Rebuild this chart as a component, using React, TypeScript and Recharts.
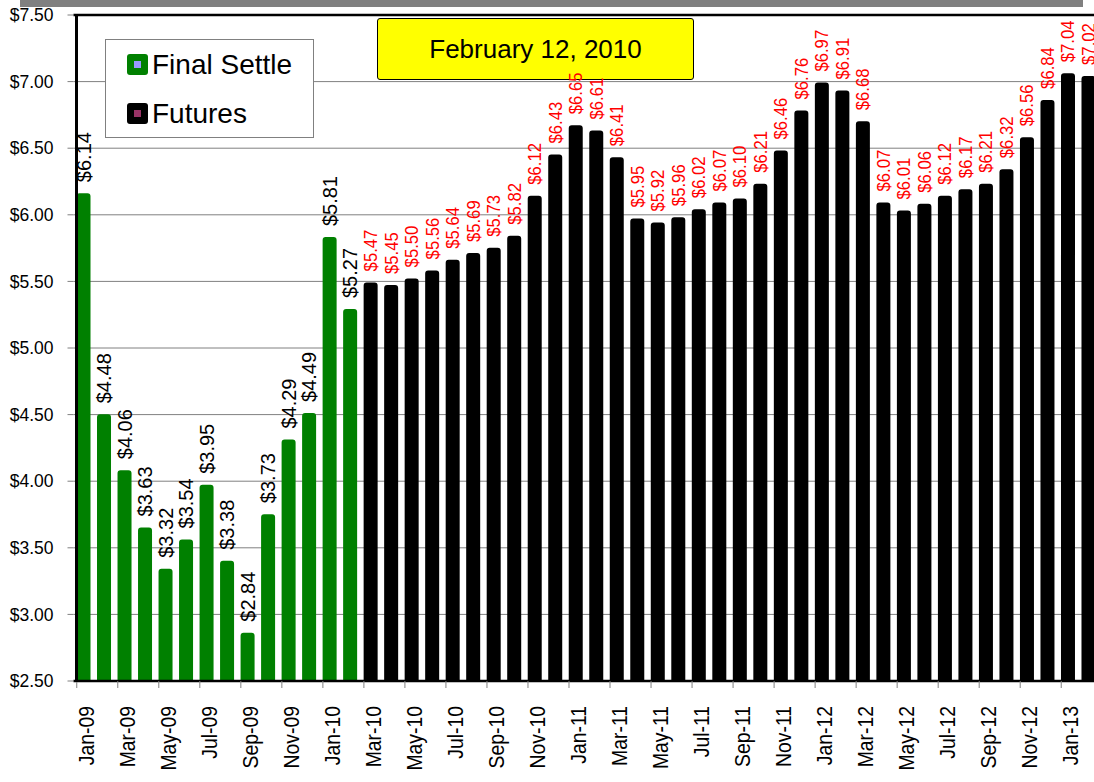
import { BarChart, Bar, XAxis, YAxis, CartesianGrid, LabelList, ReferenceLine } from "recharts";

const months = [
  "Jan-09", "Feb-09", "Mar-09", "Apr-09", "May-09", "Jun-09", "Jul-09", "Aug-09", "Sep-09", "Oct-09", "Nov-09", "Dec-09",
  "Jan-10", "Feb-10", "Mar-10", "Apr-10", "May-10", "Jun-10", "Jul-10", "Aug-10", "Sep-10", "Oct-10", "Nov-10", "Dec-10",
  "Jan-11", "Feb-11", "Mar-11", "Apr-11", "May-11", "Jun-11", "Jul-11", "Aug-11", "Sep-11", "Oct-11", "Nov-11", "Dec-11",
  "Jan-12", "Feb-12", "Mar-12", "Apr-12", "May-12", "Jun-12", "Jul-12", "Aug-12", "Sep-12", "Oct-12", "Nov-12", "Dec-12",
  "Jan-13", "Feb-13",
];

// Jan-09 .. Feb-10
const settleValues = [6.14, 4.48, 4.06, 3.63, 3.32, 3.54, 3.95, 3.38, 2.84, 3.73, 4.29, 4.49, 5.81, 5.27];

// Mar-10 .. Feb-13
const futuresValues = [
  5.47, 5.45, 5.5, 5.56, 5.64, 5.69, 5.73, 5.82, 6.12, 6.43,
  6.65, 6.61, 6.41, 5.95, 5.92, 5.96, 6.02, 6.07, 6.1, 6.21, 6.46, 6.76,
  6.97, 6.91, 6.68, 6.07, 6.01, 6.06, 6.12, 6.17, 6.21, 6.32, 6.56, 6.84,
  7.04, 7.02,
];

const yTicks = [2.5, 3, 3.5, 4, 4.5, 5, 5.5, 6, 6.5, 7, 7.5];

const data = months.map((m, i) => ({
  month: m,
  settle: i < settleValues.length ? settleValues[i] : null,
  futures: i >= settleValues.length ? futuresValues[i - settleValues.length] : null,
}));

const FONT = "'Liberation Sans', Arial, sans-serif";
const AXIS_Y = 681;

const money = (v: number) => `$${v.toFixed(2)}`;

function XTick(props: any) {
  const { x, payload } = props;
  const idx = payload.index;
  if (idx % 2 !== 0) return null;
  return (
    <g>
      <line x1={x - 7} x2={x - 7} y1={AXIS_Y} y2={AXIS_Y + 7} stroke="#808080" strokeWidth={1} />
      <text
        transform={`translate(${x + 2},${AXIS_Y + 25}) rotate(-90) scale(0.88,1)`}
        textAnchor="end"
        dominantBaseline="central"
        fontSize={22}
        fontFamily={FONT}
        fill="#000"
      >
        {payload.value}
      </text>
    </g>
  );
}

// rotated value label above a bar; squeeze < 1 narrows the text along its run
const makeLabel = (color: string, size: number, squeeze: number) => (props: any) => {
  const { value } = props;
  if (value == null) return null;
  const x = props.x ?? props.viewBox?.x;
  const y = props.y ?? props.viewBox?.y;
  const w = props.width ?? props.viewBox?.width ?? 0;
  const cx = x + w / 2;
  const ty = y - 14;
  return (
    <text
      transform={`translate(${cx},${ty}) rotate(-90) scale(${squeeze},1)`}
      textAnchor="start"
      dominantBaseline="central"
      fontSize={size}
      fontFamily={FONT}
      fill={color}
    >
      {money(value)}
    </text>
  );
};

export default function App() {
  return (
    <div
      style={{
        position: "absolute",
        left: 0,
        top: 0,
        width: 1094,
        height: 782,
        overflow: "hidden",
        background: "#fff",
        fontFamily: FONT,
      }}
    >
      {/* date box sits behind the chart, the red labels run over it */}
      <div
        style={{
          position: "absolute",
          left: 377,
          top: 18,
          width: 315,
          height: 60,
          background: "#FFFF00",
          border: "1.5px solid #000",
          borderRadius: 3,
          display: "flex",
          alignItems: "center",
          justifyContent: "center",
          fontSize: 26,
          color: "#000",
        }}
      >
        February 12, 2010
      </div>

      <div style={{ position: "absolute", left: 0, top: 0 }}>
        <BarChart
          width={1099}
          height={782}
          data={data}
          margin={{ top: 15, right: 0, bottom: 0, left: 0 }}
          barSize={8}
          barGap={-8}
        >
          <CartesianGrid vertical={false} stroke="#808080" strokeWidth={1} />
          <XAxis
            dataKey="month"
            height={101}
            interval={0}
            tickLine={false}
            axisLine={{ stroke: "#000", strokeWidth: 2.5 }}
            tick={<XTick />}
          />
          <YAxis
            width={73.5}
            domain={[2.5, 7.5]}
            ticks={yTicks}
            allowDataOverflow
            axisLine={false}
            tickLine={{ stroke: "#808080" }}
            tickSize={6}
            tickMargin={14}
            tickFormatter={money}
            tick={{ fontSize: 17.5, fill: "#000", fontFamily: FONT }}
          />
          <ReferenceLine y={7.5} stroke="#000" strokeWidth={2.5} />
          <Bar
            dataKey="settle"
            fill="#008000"
            stroke="#008000"
            strokeWidth={6}
            strokeLinejoin="round"
            isAnimationActive={false}
          >
            <LabelList dataKey="settle" content={makeLabel("#000", 20, 1)} />
          </Bar>
          <Bar
            dataKey="futures"
            fill="#000000"
            stroke="#000000"
            strokeWidth={6}
            strokeLinejoin="round"
            isAnimationActive={false}
          >
            <LabelList dataKey="futures" content={makeLabel("#FF0000", 19, 0.88)} />
          </Bar>
        </BarChart>
      </div>

      {/* y axis line, a bit right of the plot edge like the original */}
      <div style={{ position: "absolute", left: 75, top: 14, width: 2.5, height: 668, background: "#000" }} />

      {/* grey strip at the very top */}
      <div style={{ position: "absolute", left: 20, top: 0, width: 1063, height: 7, background: "#808080" }} />

      {/* legend */}
      <div
        style={{
          position: "absolute",
          left: 105,
          top: 39,
          width: 207,
          height: 97,
          background: "#fff",
          border: "1px solid #808080",
        }}
      >
        {[
          { name: "Final Settle", color: "#008000", inner: "#9999FF", top: 14 },
          { name: "Futures", color: "#000000", inner: "#993366", top: 63 },
        ].map((e) => (
          <div key={e.name} style={{ position: "absolute", left: 21, top: e.top, height: 21, display: "flex", alignItems: "center" }}>
            <div
              style={{
                width: 21,
                height: 21,
                background: e.color,
                borderRadius: 3,
                display: "flex",
                alignItems: "center",
                justifyContent: "center",
              }}
            >
              <div style={{ width: 7, height: 7, background: e.inner }} />
            </div>
            <span style={{ marginLeft: 4, fontSize: 28, lineHeight: "21px", whiteSpace: "nowrap", color: "#000" }}>{e.name}</span>
          </div>
        ))}
      </div>
    </div>
  );
}
